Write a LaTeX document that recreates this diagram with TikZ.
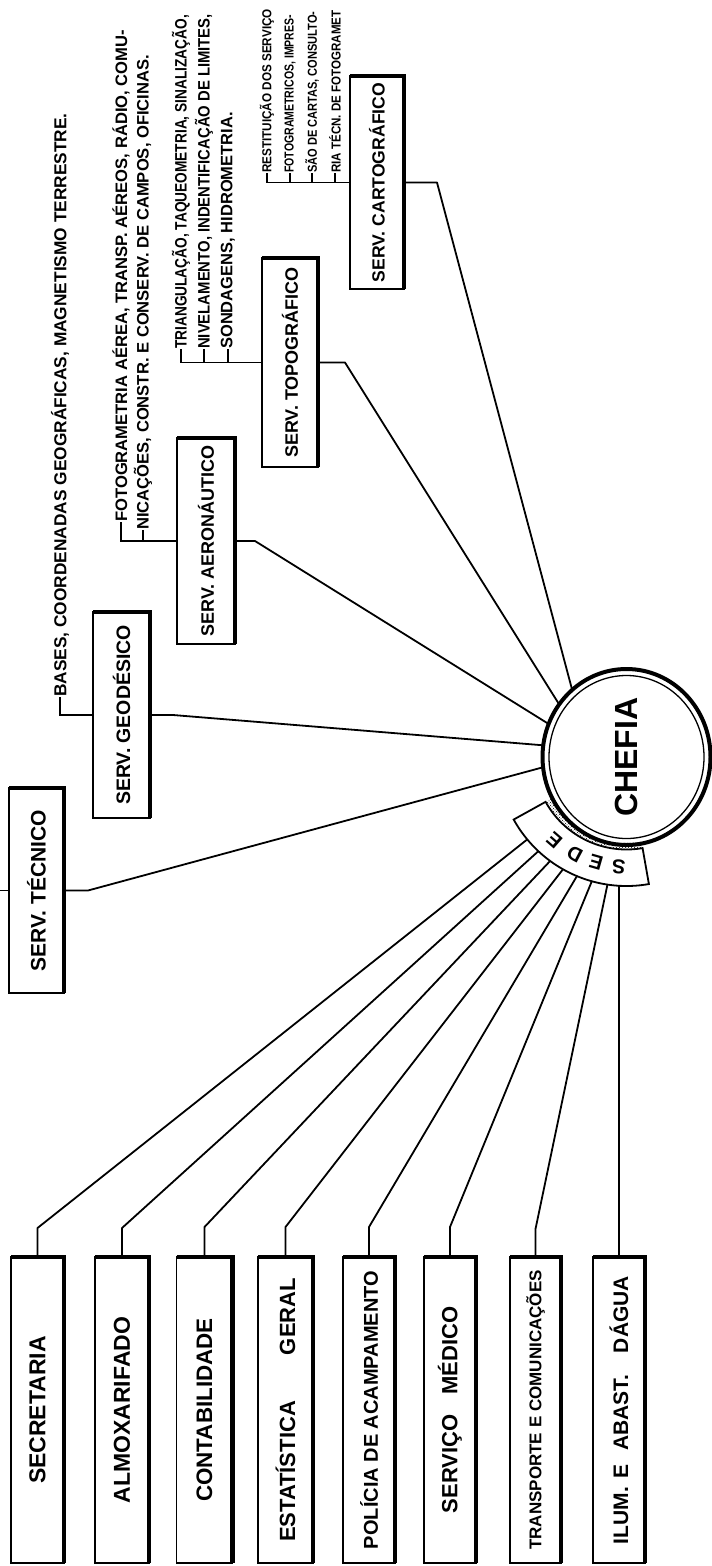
\documentclass[tikz,border=0pt]{standalone}
\usepackage{fontspec}
\setmainfont{Liberation Sans}
\usetikzlibrary{shapes.geometric,patterns,calc}
% rotated label of a given size
\newcommand{\lbl}[2]{\rotatebox{90}{\fontsize{#1}{#1}\selectfont #2}}
% heavy top and right rim of a unit box
\newcommand{\boxrim}[1]{\draw[line width=4.5pt, line join=miter] (#1.north west) -- (#1.north east) -- (#1.south east);}
\begin{document}
\begin{tikzpicture}[x=1pt,y=-1pt,
  unitbox/.style={draw, line width=1.8pt, fill=white, inner sep=0pt, outer sep=0pt, font=\bfseries},
  link/.style={line width=1.8pt, line join=round},
  tick/.style={line width=1.3pt},
  note/.style={rotate=90, anchor=west, inner sep=0pt, font=\bfseries},
]
\useasboundingbox (0,0) rectangle (712,1566);
\fill[white] (0,0) rectangle (712,1566);

% ---------- central unit ----------
\node[ellipse, draw, line width=4pt, minimum width=168pt, minimum height=176pt,
      inner sep=0pt, outer sep=0pt, font=\bfseries] (chefia) at (626.5,757) {\lbl{32}{CHEFIA}};
\draw[line width=1.3pt] (chefia.center) ellipse [x radius=77.5, y radius=81.5];

% ---------- SEDE band ----------
\begin{scope}[shift={(chefia.center)}]
  \fill[pattern=crosshatch dots] plot[domain=80:151,samples=40] (\x:86) -- plot[domain=151:80,samples=40] (\x:93) -- cycle;
  \draw[line width=1.8pt, fill=white, line join=miter] plot[domain=80:151,samples=50] (\x:92.5) -- plot[domain=151:80,samples=50] (\x:129) -- cycle;
  \foreach \a/\ch in {94/S,106/E,118/D,131/E}{
    \node[font=\bfseries\fontsize{20}{20}\selectfont, inner sep=0pt, rotate=-\a-90] (sede-\a) at (\a:110) {\ch};
  }
  \coordinate (s1) at (140.3:129);
  \coordinate (s2) at (133.1:129);
  \coordinate (s3) at (126.3:129);
  \coordinate (s4) at (119.5:129);
  \coordinate (s5) at (112.6:129);
  \coordinate (s6) at (105.6:129);
  \coordinate (s7) at (98.5:129);
  \coordinate (s8) at (93.3:129);
\end{scope}

% ---------- technical services ----------
\node[unitbox, minimum width=55pt, minimum height=205pt] (tec)  at (36.5,890.5) {\lbl{21}{SERV.\ TÉCNICO}};
\node[unitbox, minimum width=57pt, minimum height=206pt] (geo)  at (121.5,715)  {\lbl{19.5}{SERV.\ GEODÉSICO}};
\node[unitbox, minimum width=58pt, minimum height=206pt] (aero) at (206,541)    {\lbl{18}{SERV.\ AERONÁUTICO}};
\node[unitbox, minimum width=56pt, minimum height=209pt] (topo) at (290,362.5)  {\lbl{18}{SERV.\ TOPOGRÁFICO}};
\node[unitbox, minimum width=54pt, minimum height=213pt] (cart) at (377,182.5)  {\lbl{17.6}{SERV.\ CARTOGRÁFICO}};
\foreach \b in {tec,geo,aero,topo,cart}{\boxrim{\b}}

\coordinate (tecout) at (0,890.5);
\draw[link] (tec.west) -- (tecout);
\draw[link] (tec.east)  -- ++(24,0) -- (chefia.187);
\draw[link] (geo.east)  -- ++(23,0) -- (chefia.172);
\draw[link] (aero.east) -- ++(20,0) -- (chefia.157.5);
\draw[link] (topo.east) -- ++(27,0) -- (chefia.142);
\draw[link] (cart.east) -- ++(33,0) -- (chefia.129.6);

% ---------- duties of each technical service ----------
\node[note, font=\bfseries\fontsize{17.3}{17}\selectfont] (geon) at (60,697)
  {BASES, COORDENADAS GEOGRÁFICAS, MAGNETISMO TERRESTRE.};
\draw[tick] (geo.west) -| (geon.west);

\node[note, font=\bfseries\fontsize{16.6}{17}\selectfont] (aeron1) at (121,522)
  {FOTOGRAMETRIA AÉREA, TRANSP. AÉREOS, RÁDIO, COMU-};
\node[note, font=\bfseries\fontsize{16.6}{17}\selectfont] (aeron2) at (143,530)
  {NICAÇÕES, CONSTR. E CONSERV. DE CAMPOS, OFICINAS.};
\draw[tick] (aero.west) -| (aeron1.west);
\draw[tick] (aeron2.west) -- (aeron2.west |- aero.west);

\node[note, font=\bfseries\fontsize{16.5}{16}\selectfont] (topon1) at (181,349)
  {\scalebox{0.83}[1]{TRIANGULAÇÃO, TAQUEOMETRIA, SINALIZAÇÃO,}};
\node[note, font=\bfseries\fontsize{16.5}{16}\selectfont] (topon2) at (204,349)
  {\scalebox{0.9}[1]{NIVELAMENTO, INDENTIFICAÇÃO DE LIMITES,}};
\node[note, font=\bfseries\fontsize{16.5}{16}\selectfont] (topon3) at (228,349)
  {SONDAGENS, HIDROMETRIA.};
\draw[tick] (topo.west) -| (topon1.west);
\draw[tick] (topon2.west) -- (topon2.west |- topo.west);
\draw[tick] (topon3.west) -- (topon3.west |- topo.west);

\node[note, font=\bfseries\fontsize{13}{13}\selectfont] (cartn1) at (267,173) {\scalebox{0.9}[1]{RESTITUIÇÃO DOS SERVIÇO}};
\node[note, font=\bfseries\fontsize{13}{13}\selectfont] (cartn2) at (290,173) {\scalebox{0.81}[1]{FOTOGRAMETRICOS, IMPRES-}};
\node[note, font=\bfseries\fontsize{13}{13}\selectfont] (cartn3) at (312,173) {\scalebox{0.85}[1]{SÃO DE CARTAS, CONSULTO-}};
\node[note, font=\bfseries\fontsize{13}{13}\selectfont] (cartn4) at (335,173) {\scalebox{0.89}[1]{RIA TÉCN. DE FOTOGRAMET}};
\draw[tick] (cart.west) -| (cartn1.west);
\foreach \n in {cartn2,cartn3,cartn4}{\draw[tick] (\n.west) -- (\n.west |- cart.west);}

% ---------- headquarters services ----------
\node[unitbox, minimum width=53pt, minimum height=306pt] (sec) at (37.5,1410)  {\lbl{23}{SECRETARIA}};
\node[unitbox, minimum width=54pt, minimum height=306pt] (alm) at (122,1410)   {\lbl{23}{ALMOXARIFADO}};
\node[unitbox, minimum width=56pt, minimum height=306pt] (con) at (204.5,1410) {\lbl{22.4}{CONTABILIDADE}};
\node[unitbox, minimum width=55pt, minimum height=306pt] (est) at (285.5,1410) {\lbl{22}{ESTATÍSTICA\hspace{46pt}GERAL}};
\node[unitbox, minimum width=52pt, minimum height=306pt] (pol) at (369,1410)   {\lbl{20}{POLÍCIA DE ACAMPAMENTO}};
\node[unitbox, minimum width=52pt, minimum height=306pt] (med) at (450,1410)   {\lbl{22}{SERVIÇO\hspace{20pt}MÉDICO}};
\node[unitbox, minimum width=51pt, minimum height=306pt] (tra) at (535.5,1410) {\lbl{17}{TRANSPORTE E COMUNICAÇÕES}};
\node[unitbox, minimum width=52pt, minimum height=306pt] (ilu) at (619,1410)   {\lbl{21}{ILUM.\hspace{8pt}E\hspace{14pt}ABAST.\hspace{22pt}DÁGUA}};
\foreach \b in {sec,alm,con,est,pol,med,tra,ilu}{\boxrim{\b}}

\draw[link] (sec.north) -- ++(0,-29) -- (s1);
\draw[link] (alm.north) -- ++(0,-29) -- (s2);
\draw[link] (con.north) -- ++(0,-30) -- (s3);
\draw[link] (est.north) -- ++(0,-30) -- (s4);
\draw[link] (pol.north) -- ++(0,-30) -- (s5);
\draw[link] (med.north) -- ++(0,-30) -- (s6);
\draw[link] (tra.north) -- ++(0,-28) -- (s7);
\draw[link] (ilu.north) -- (s8);
\end{tikzpicture}
\end{document}
